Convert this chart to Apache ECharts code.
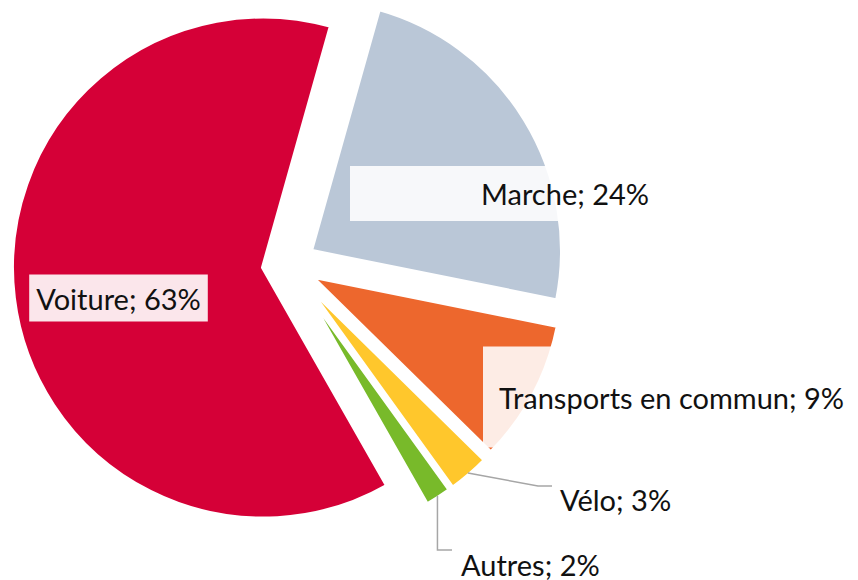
<!DOCTYPE html>
<html><head><meta charset="utf-8">
<script src="https://cdn.jsdelivr.net/npm/echarts@6/dist/echarts.min.js"></script>
<style>html,body{margin:0;padding:0;background:#fff}#c{width:858px;height:580px}</style>
</head><body><div id="c"></div>
<script>
const categories = ['Marche', 'Transports en commun', 'Vélo', 'Autres', 'Voiture'];
const shares = [23.8, 9.2, 2.7, 1.7, 62.6];
const colors = ['#BAC7D7', '#ED672D', '#FFC72C', '#78BA2A', '#D50037'];

const FONT = 'Lato';
const FS = 29;
const EXPLODE = 26;
const labelSpots = {
  'Marche': {x: 350, y: 193.5, align: 'left'},
  'Transports en commun': {x: 483, y: 397, align: 'left'},
  'Vélo': {x: 560, y: 499.5, align: 'left'},
  'Autres': {x: 461, y: 564, align: 'left'},
  'Voiture': {x: 118.5, y: 298, align: 'center'}
};
const boxStyles = {
  'Marche': {backgroundColor: 'rgba(255,255,255,0.88)', padding: [12, 10, 12, 131]},
  'Transports en commun': {backgroundColor: 'rgba(255,255,255,0.88)', padding: [35, 8, 35, 16]},
  'Voiture': {backgroundColor: 'rgba(255,255,255,0.9)', padding: [8, 7]},
  'Vélo': {},
  'Autres': {}
};
const withLine = {'Vélo': true, 'Autres': true};

const common = {
  type: 'pie',
  center: [288.8, 264.4],
  radius: 251,
  startAngle: 74.3,
  clockwise: true,
  avoidLabelOverlap: false,
  silent: true,
  emphasis: {disabled: true}
};

const chart = echarts.init(document.getElementById('c'), null, {renderer: 'svg'});
chart.setOption({
  backgroundColor: '#fff',
  animation: false,
  series: [
    Object.assign({}, common, {
      name: 'slices',
      selectedMode: 'multiple',
      selectedOffset: EXPLODE,
      itemStyle: {borderColor: '#fff', borderWidth: 4},
      label: {show: false},
      labelLine: {show: false},
      data: categories.map((c, i) => ({
        name: c, value: shares[i], selected: true,
        itemStyle: {color: colors[i]}
      }))
    }),
    Object.assign({}, common, {
      name: 'labels',
      z: 3,
      itemStyle: {color: 'rgba(0,0,0,0)', borderWidth: 0},
      label: {
        show: true,
        position: 'outside',
        fontFamily: FONT,
        fontSize: FS,
        lineHeight: 31,
        color: '#111',
        overflow: 'none',
        formatter: p => p.name + '; ' + Math.round(p.percent) + '%'
      },
      labelLine: {show: false, lineStyle: {color: '#A6A6A6', width: 1.5}},
      labelLayout: function (p) {
        const name = categories[p.dataIndex];
        const s = labelSpots[name];
        const out = {x: s.x, y: s.y, align: s.align, verticalAlign: 'middle'};
        if (withLine[name] && p.labelLinePoints) {
          const q = p.labelLinePoints[0];
          const cx = common.center[0], cy = common.center[1];
          const len = Math.hypot(q[0] - cx, q[1] - cy);
          const k = (len + EXPLODE - 2) / len;
          const p0 = [cx + (q[0] - cx) * k, cy + (q[1] - cy) * k];
          if (name === 'Vélo') {
            out.labelLinePoints = [p0, [s.x - 22, s.y - 13.5], [s.x - 8, s.y - 13.5]];
          } else {
            out.labelLinePoints = [p0, [p0[0], s.y - 14], [s.x - 9, s.y - 14]];
          }
        }
        return out;
      },
      data: categories.map((c, i) => ({
        name: c, value: shares[i],
        label: boxStyles[c],
        labelLine: {show: !!withLine[c]}
      }))
    })
  ]
});
</script></body></html>
